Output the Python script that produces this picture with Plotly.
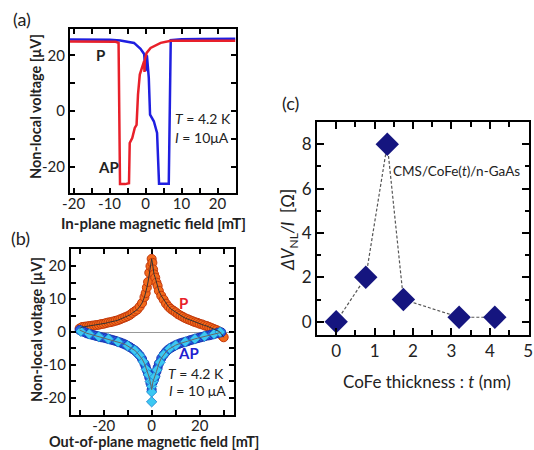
import plotly.graph_objects as go

W, H = 534, 450
FONT = "Lato"

# ---------- Panel (a): in-plane sweep ----------
a_red_x = [-21, -15, -10, -8.3, -7.5, -7.1, -6.8, -5.7, -4.6, -4.4, -3.7, -3.0, -2.5, -2.1, -1.6, -0.9, -0.4, -0.3, -0.2, 0.3, 1.4, 4.2, 7.0, 10, 15, 20, 25]
a_red_y = [25.0, 25.0, 25.0, 24.9, 24.5, -26.3, -26.3, -26.3, -26.0, -11.5, -9.7, -6.1, -5.0, 5.9, 13.1, 15.5, 17.9, 14.0, 18.5, 20.9, 22.7, 24.5, 25.3, 25.3, 25.2, 25.3, 25.3]
a_blue_x = [-21, -15, -10, -7.0, -3.2, -1.4, -0.4, 0.0, 0.1, 0.4, 0.9, 1.25, 2.3, 3.2, 3.75, 5.2, 6.45, 7.0, 10, 15, 20, 25]
a_blue_y = [25.7, 25.7, 25.6, 25.4, 24.5, 22.4, 20.5, 14.3, 20.0, 19.7, 11.9, -1.3, -3.7, -7.9, -26.2, -26.2, -26.2, 25.5, 25.8, 25.9, 26.0, 26.0]
a_xticks = [-20, -10, 0, 10, 20]
a_xlabels = ["-20", "-10", "0", "10", "20"]
a_yticks = [-20, 0, 20]
a_ylabels = ["-20", "0", "20"]

# ---------- Panel (b): out-of-plane (Hanle) ----------
b_p_x = [-30, -29, -28, -27, -26, -25, -24, -23, -22, -21, -20, -19, -18, -17, -16, -15, -14, -13, -12, -11,
         -10, -9, -8, -7, -6, -5, -4, -3, -2.5, -2, -1.5, -1, -0.5, 0, 0.3, 0.6, 1, 1.5, 2, 2.5, 3, 4, 5, 6, 7,
         8, 9, 10, 11, 12, 13, 14, 15, 16, 17, 18, 19, 20, 21, 22, 23, 24, 25, 26, 27, 28, 29, 29.5, 30]
b_p_y = [1.1, 1.5, 1.6, 1.7, 1.8, 1.9, 2.0, 2.1, 2.2, 2.4, 2.5, 2.7, 2.9, 3.0, 3.2, 3.4, 3.6, 3.9, 4.2, 4.5,
         4.8, 5.2, 5.8, 6.3, 6.8, 7.7, 8.8, 10.6, 11.8, 13.5, 15.2, 18.0, 20.0, 22.2, 21.0, 19.0, 17.5, 16.5, 15.0, 14.0, 12.5, 11.0, 9.8, 8.6, 7.7,
         7.0, 6.5, 6.0, 5.4, 5.0, 4.6, 4.2, 3.9, 3.6, 3.3, 3.0, 2.8, 2.5, 2.3, 2.0, 1.8, 1.5, 1.2, 0.9, 0.6, 0.2, -0.5, -1.2, -1.6]
b_ap_x = [-30, -29, -28, -27, -26, -25, -24, -23, -22, -21, -20, -19, -18, -17, -16, -15, -14, -13, -12, -11,
          -10, -9, -8, -7, -6, -5, -4, -3, -2.5, -2, -1.5, -1, -0.5, 0, 0.5, 1, 1.5, 2, 2.5, 3, 4, 5, 6, 7,
          8, 9, 10, 11, 12, 13, 14, 15, 16, 17, 18, 19, 20, 21, 22, 23, 24, 25, 26, 27, 28, 29]
b_ap_y = [0.6, 0.2, 0.0, -0.4, -0.6, -0.8, -1.0, -1.2, -1.4, -1.6, -1.7, -1.9, -2.1, -2.3, -2.5, -2.7, -3.0, -3.2, -3.5, -3.8,
          -4.2, -4.6, -5.1, -5.6, -6.3, -7.1, -8.2, -9.6, -10.5, -11.6, -12.6, -13.8, -15.5, -17.5, -15.2, -14.3, -13.4, -12.0, -10.8, -9.6, -8.0, -6.9, -6.0, -5.3,
          -4.8, -4.4, -4.0, -3.7, -3.4, -3.2, -3.0, -2.8, -2.5, -2.3, -2.1, -1.9, -1.7, -1.5, -1.3, -1.1, -1.0, -0.8, -0.6, -0.4, -0.2, -0.1]
b_apd_x = [-29.5, -26, -22, -18, -14, -10, -7, -5, -3.5, -2.2, -1.3, -0.6, 0, 0, 0, 0.6, 1.3, 2.2, 3.5, 5, 7.5, 10, 14, 18, 22, 26, 28.5]
b_apd_y = [0.2, -0.6, -1.4, -2.1, -3.0, -4.2, -5.6, -7.1, -9.0, -11.4, -13.0, -15.0, -16.5, -18.2, -21.2, -15.0, -13.6, -11.5, -9.2, -6.9, -5.0, -4.0, -3.0, -2.1, -1.3, -0.6, 0.0]
b_xticks = [-20, 0, 20]
b_xlabels = ["-20", "0", "20"]
b_yticks = [-20, -10, 0, 10, 20]
b_ylabels = ["-20", "-10", "0", "10", "20"]

# ---------- Panel (c): thickness dependence ----------
c_t = [0, 0.77, 1.33, 1.75, 3.2, 4.13]
c_dv = [0.0, 2.0, 8.0, 1.0, 0.2, 0.2]


def px(x):
    return x / W


def py(y):
    return 1 - y / H


fig = go.Figure()

# Panel (a)
fig.add_trace(go.Scatter(x=a_blue_x, y=a_blue_y, mode="lines", line=dict(color="#1f1fe0", width=2.5),
                         xaxis="x", yaxis="y", showlegend=False))
fig.add_trace(go.Scatter(x=a_red_x, y=a_red_y, mode="lines", line=dict(color="#e8202a", width=2.5),
                         xaxis="x", yaxis="y", showlegend=False))

# Panel (b)
fig.add_trace(go.Scatter(x=b_p_x, y=b_p_y, mode="markers",
                         marker=dict(size=9, color="#f26a1b", line=dict(color="#c2380c", width=1)),
                         xaxis="x2", yaxis="y2", showlegend=False))
fig.add_trace(go.Scatter(x=b_ap_x, y=b_ap_y, mode="markers",
                         marker=dict(size=9, color="#2a5ae8", line=dict(color="#1a35b0", width=1)),
                         xaxis="x2", yaxis="y2", showlegend=False))
fig.add_trace(go.Scatter(x=b_apd_x, y=b_apd_y, mode="markers",
                         marker=dict(size=8, symbol="diamond", color="#3cc8f2", line=dict(color="#1a80d0", width=0.8)),
                         xaxis="x2", yaxis="y2", showlegend=False))
fig.add_trace(go.Scatter(x=b_p_x, y=b_p_y, mode="lines", line=dict(color="#333333", width=1),
                         xaxis="x2", yaxis="y2", showlegend=False))
fig.add_trace(go.Scatter(x=b_ap_x, y=b_ap_y, mode="lines", line=dict(color="#666666", width=1),
                         xaxis="x2", yaxis="y2", showlegend=False))

# Panel (c)
fig.add_trace(go.Scatter(x=c_t, y=c_dv, mode="lines+markers",
                         line=dict(color="#555555", width=1.2, dash="3px,2px"),
                         marker=dict(symbol="diamond", size=18, color="#15157f", line=dict(width=0)),
                         xaxis="x3", yaxis="y3", showlegend=False))

common = dict(showline=True, linecolor="black", linewidth=2, mirror="ticks", ticks="inside",
              tickcolor="black", tickwidth=1.5, ticklen=5, showgrid=False, zeroline=False,
              tickfont=dict(family=FONT, size=15, color="#222"))
minor = dict(ticks="inside", ticklen=5, tickcolor="black", tickwidth=1.5, showgrid=False)
cfont = dict(family=FONT, size=17, color="#222")

fig.update_layout(
    width=W, height=H, margin=dict(l=0, r=0, t=0, b=0, autoexpand=False),
    paper_bgcolor="white", plot_bgcolor="white",
    font=dict(family=FONT, color="#222"),
    xaxis=dict(domain=[px(70), px(235.5)], range=[-21, 25], tickmode="array", tickvals=a_xticks, ticktext=a_xlabels,
               minor=dict(dtick=5, tick0=0, **minor), anchor="y", ticklabelstandoff=-4, **common),
    yaxis=dict(domain=[py(193), py(29)], range=[-29.5, 29.5], tickmode="array", tickvals=a_yticks, ticktext=a_ylabels,
               minor=dict(dtick=10, tick0=0, **minor), anchor="x", **common),
    xaxis2=dict(domain=[px(71), px(234)], range=[-33.6, 34.3], tickmode="array", tickvals=b_xticks, ticktext=b_xlabels,
                minor=dict(dtick=10, tick0=0, **minor), anchor="y2", ticklabelstandoff=-4, **common),
    yaxis2=dict(domain=[py(415), py(249)], range=[-25.2, 25.2], tickmode="array", tickvals=b_yticks, ticktext=b_ylabels,
                minor=dict(dtick=5, tick0=0, **minor), anchor="x2", **{**common, "zeroline": True,
                                                                        "zerolinecolor": "#999", "zerolinewidth": 1}),
    xaxis3=dict(domain=[px(317), px(529)], range=[-0.5, 5.02], dtick=1, tick0=0,
                minor=dict(dtick=0.5, **minor), anchor="y3",
                **{**common, "tickfont": cfont, "ticklen": 7}),
    yaxis3=dict(domain=[py(335), py(122)], range=[-0.6, 9], dtick=2, tick0=0,
                minor=dict(dtick=1, ticks="inside", ticklen=4, tickcolor="black", tickwidth=1.5, showgrid=False),
                anchor="x3",
                **{**common, "tickfont": cfont, "ticklen": 7}),
)

ann = []


def add(text, x, y, size, bold=False, color="#222", angle=0, xanchor="center"):
    ann.append(dict(text=f"<b>{text}</b>" if bold else text, x=px(x), y=py(y), xref="paper", yref="paper",
                    showarrow=False, font=dict(family=FONT, size=size, color=color), textangle=angle,
                    xanchor=xanchor, yanchor="middle"))


# panel labels
add("(a)", 22, 19, 18)
add("(b)", 20, 238, 18)
add("(c)", 290, 103, 18)

# axis titles
add("Non-local voltage [μV]", 36, 107, 14.5, bold=True, angle=-90)
add("In-plane magnetic field [mT]", 153, 223, 15, bold=True)
add("Non-local voltage [μV]", 36, 330, 14.5, bold=True, angle=-90)
add("Out-of-plane magnetic field [mT]", 154, 441, 14.5, bold=True)
add("<i>ΔV</i><sub>NL</sub><i>/I</i>  [Ω]", 289, 230, 17, angle=-90)
add("CoFe thickness : <i>t</i> (nm)", 427, 381, 17)

# in-panel labels (a)
add("P", 100, 55, 15, bold=True)
add("AP", 108, 167, 15, bold=True)
add("<i>T</i> = 4.2 K", 203, 118, 14)
add("<i>I</i> = 10μA", 202, 137, 14)
# in-panel labels (b)
add("P", 183, 303, 15, bold=True, color="#e8202a")
add("AP", 188, 353, 15, bold=True, color="#2020d0")
add("<i>T</i> = 4.2 K", 196, 373, 14)
add("<i>I</i> = 10 μA", 197, 390, 14)
# (c)
add("CMS/CoFe(<i>t</i>)/n-GaAs", 456, 171, 13.5)

fig.update_layout(annotations=ann)
fig.write_html("out.html", config={"displayModeBar": False},
               post_script="document.body.style.margin='0px';document.body.style.overflow='hidden';")
